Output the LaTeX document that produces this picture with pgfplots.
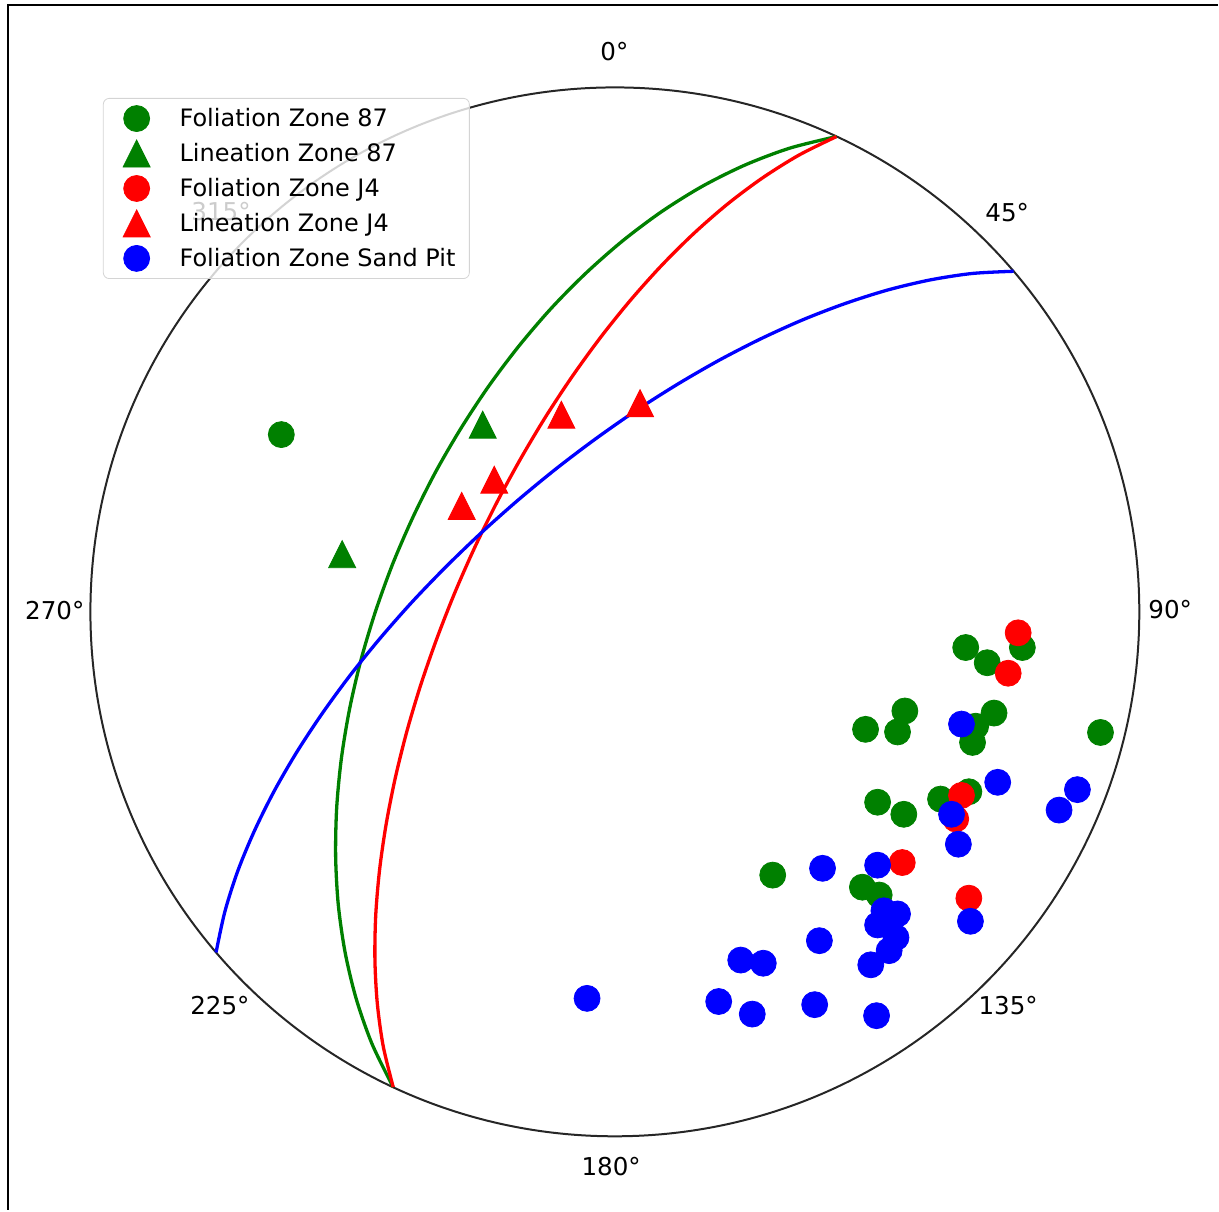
\documentclass[border=0pt]{standalone}
\usepackage{fontspec}
\setmainfont{DejaVu Sans}
\usepackage{pgfplots}
\pgfplotsset{compat=1.18}

\definecolor{mplgreen}{rgb}{0,0.5,0}
\definecolor{mplred}{rgb}{1,0,0}
\definecolor{mplblue}{rgb}{0,0,1}

% matplotlib-like triangle: bounding box centred on the point
\pgfdeclareplotmark{mpltri}{%
  \pgfpathmoveto{\pgfqpoint{0pt}{\pgfplotmarksize}}%
  \pgfpathlineto{\pgfqpoint{-\pgfplotmarksize}{-\pgfplotmarksize}}%
  \pgfpathlineto{\pgfqpoint{\pgfplotmarksize}{-\pgfplotmarksize}}%
  \pgfpathclose
  \pgfusepathqfillstroke}

\begin{document}
\begin{tikzpicture}
\begin{axis}[
  scale only axis,
  width=609.5pt, height=605.5pt,
  xmin=-1.1724, xmax=1.1495,
  ymin=-1.1400, ymax=1.1667,
  hide axis,
  clip=false,
  legend cell align=left,
  legend image code/.code={%
    \path (-11.5pt,0pt) (0pt,0pt);
    \draw[#1,fill opacity=1] plot coordinates {(0pt,0pt)};},
  legend style={
    at={(0.0845,0.919)}, anchor=north west,
    draw=black!17, rounded corners=3pt,
    fill=white, fill opacity=0.8, text opacity=1,
    font=\fontsize{12pt}{14pt}\selectfont,
    inner xsep=5pt, inner ysep=2pt,
    row sep=1.3pt, column sep=12.75pt,
    nodes={inner sep=2pt, text height=10pt, text depth=2.2pt},
  },
]
% page frame (top and left edges)
\draw[line width=1.3pt] (axis cs:-1.157,-1.14) -- (axis cs:-1.157,1.157) -- (axis cs:1.1495,1.157);
\path (rel axis cs:0,0) rectangle (rel axis cs:1,1);

% primitive circle
\draw[line width=1pt, black!85] (axis cs:0,0) circle[radius=1];

% azimuth labels
\begin{scope}[font=\fontsize{12.3pt}{14pt}\selectfont]
\node at (axis cs:-0.001,1.068) {0°};
\node at (axis cs:0.748,0.761) {45°};
\node at (axis cs:1.059,0.005) {90°};
\node at (axis cs:0.750,-0.750) {135°};
\node at (axis cs:-0.007,-1.058) {180°};
\node at (axis cs:-0.753,-0.750) {225°};
\node at (axis cs:-1.068,0.003) {270°};
\node at (axis cs:-0.751,0.763) {315°};
\end{scope}

% Foliation Zone 87
\addplot[only marks, mark=*, mark size=6.5pt, color=mplgreen] coordinates {
  (-0.636,0.338) (0.301,-0.502) (0.669,-0.068) (0.710,-0.097) (0.777,-0.068)
  (0.553,-0.189) (0.478,-0.224) (0.539,-0.229) (0.688,-0.218) (0.682,-0.249)
  (0.723,-0.193) (0.926,-0.230) (0.501,-0.363) (0.551,-0.386) (0.621,-0.357)
  (0.675,-0.343) (0.472,-0.525) (0.504,-0.540)
};
\addlegendentry{Foliation Zone 87}
% Lineation Zone 87
\addplot[only marks, mark=mpltri, mark size=6.75pt, color=mplgreen] coordinates {
  (-0.252,0.357) (-0.520,0.110)
};
\addlegendentry{Lineation Zone 87}
% Foliation Zone J4
\addplot[only marks, mark=*, mark size=6.5pt, color=mplred] coordinates {
  (0.769,-0.040) (0.750,-0.117) (0.661,-0.350) (0.650,-0.395) (0.548,-0.478)
  (0.675,-0.546)
};
\addlegendentry{Foliation Zone J4}
% Lineation Zone J4
\addplot[only marks, mark=mpltri, mark size=6.75pt, color=mplred] coordinates {
  (-0.102,0.376) (0.048,0.398) (-0.230,0.252) (-0.292,0.202)
};
\addlegendentry{Lineation Zone J4}
% Foliation Zone Sand Pit
\addplot[only marks, mark=*, mark size=6.5pt, color=mplblue] coordinates {
  (0.661,-0.214) (0.730,-0.325) (0.882,-0.339) (0.847,-0.378) (0.642,-0.386)
  (0.655,-0.443) (0.501,-0.483) (0.396,-0.489) (0.678,-0.590) (0.513,-0.570)
  (0.539,-0.576) (0.501,-0.597) (0.536,-0.621) (0.523,-0.646) (0.488,-0.673)
  (0.390,-0.627) (0.240,-0.664) (0.283,-0.670) (-0.053,-0.737) (0.198,-0.743)
  (0.262,-0.767) (0.381,-0.749) (0.499,-0.770)
};
\addlegendentry{Foliation Zone Sand Pit}

% great circles (mean planes, equal-area projection, 7.5 deg steps)
% Zone 87: strike 205, dip 55
\addplot[smooth, line width=1.65pt, color=mplgreen, forget plot] coordinates {
  (-0.4226,-0.9063) (-0.4629,-0.8241) (-0.4931,-0.7381) (-0.5143,-0.6496)
  (-0.5273,-0.5591) (-0.5324,-0.4669) (-0.5304,-0.3734) (-0.5215,-0.2798)
  (-0.5060,-0.1860) (-0.4844,-0.0928) (-0.4568,-0.0003) (-0.4239,0.0907)
  (-0.3854,0.1797) (-0.3420,0.2664) (-0.2934,0.3501) (-0.2403,0.4307)
  (-0.1827,0.5072) (-0.1208,0.5794) (-0.0547,0.6463) (0.0154,0.7079)
  (0.0894,0.7633) (0.1670,0.8116) (0.2486,0.8522) (0.3338,0.8843) (0.4226,0.9063)
};
% Zone J4: strike 205, dip 66
\addplot[smooth, line width=1.65pt, color=mplred, forget plot] coordinates {
  (-0.4226,-0.9063) (-0.4417,-0.8282) (-0.4529,-0.7473) (-0.4575,-0.6642)
  (-0.4560,-0.5791) (-0.4487,-0.4925) (-0.4361,-0.4049) (-0.4186,-0.3163)
  (-0.3965,-0.2275) (-0.3699,-0.1385) (-0.3391,-0.0500) (-0.3047,0.0377)
  (-0.2665,0.1243) (-0.2248,0.2091) (-0.1797,0.2919) (-0.1317,0.3724)
  (-0.0806,0.4499) (-0.0268,0.5240) (0.0298,0.5943) (0.0889,0.6603)
  (0.1505,0.7215) (0.2147,0.7775) (0.2813,0.8273) (0.3506,0.8707) (0.4226,0.9063)
};
% Sand Pit: strike 229.5, dip 67
\addplot[smooth, line width=1.65pt, color=mplblue, forget plot] coordinates {
  (-0.7604,-0.6494) (-0.7437,-0.5719) (-0.7192,-0.4946) (-0.6876,-0.4183)
  (-0.6500,-0.3425) (-0.6067,-0.2677) (-0.5581,-0.1939) (-0.5050,-0.1213)
  (-0.4476,-0.0504) (-0.3864,0.0191) (-0.3215,0.0865) (-0.2537,0.1517)
  (-0.1831,0.2144) (-0.1102,0.2743) (-0.0352,0.3310) (0.0416,0.3846)
  (0.1198,0.4342) (0.1988,0.4798) (0.2788,0.5209) (0.3593,0.5573)
  (0.4401,0.5883) (0.5206,0.6138) (0.6011,0.6329) (0.6811,0.6452) (0.7604,0.6494)
};
\end{axis}
\end{tikzpicture}
\end{document}
